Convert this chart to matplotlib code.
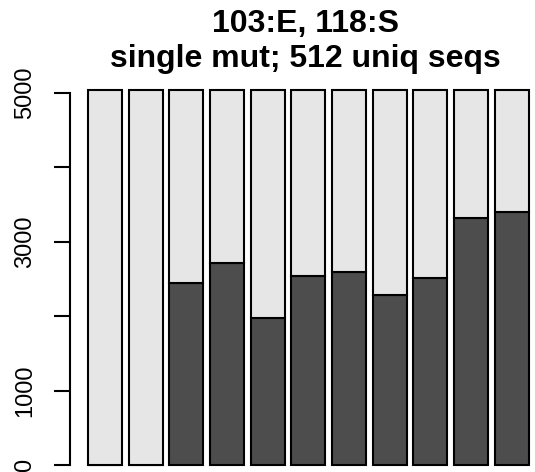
import numpy as np
import matplotlib
matplotlib.use("Agg")
import matplotlib.pyplot as plt

# stacked counts per position (dark = mutated, light = rest up to total)
totals = [5040, 5040, 5040, 5040, 5040, 5040, 5040, 5040, 5040, 5040, 5040]
dark = [0, 0, 2445, 2715, 1975, 2540, 2595, 2285, 2515, 3315, 3395]
yticks = [0, 1000, 2000, 3000, 4000, 5000]
ytick_labels = ["0", "1000", "", "3000", "", "5000"]
title_lines = ["103:E, 118:S", "single mut; 512 uniq seqs"]

W, H = 535, 472
fig = plt.figure(figsize=(W / 100, H / 100), dpi=100)
plt.rcParams["font.family"] = ["Liberation Sans", "DejaVu Sans"]

# R barplot geometry: width 1, space 0.2; plot region partly cut off at right/bottom
x0_px, px_per_unit = 70.4, 33.9
y0_px, px_per_val = 465.0, 0.07445
xlim = (-0.32, -0.32 + (W - x0_px) / px_per_unit)
ytop = 5241.6
top_px = y0_px - ytop * px_per_val
ylim = (-(H - y0_px) / px_per_val, ytop)
ax = fig.add_axes([x0_px / W, 0, 1 - x0_px / W, 1 - top_px / H])

n = len(dark)
lefts = 0.2 + 1.2 * np.arange(n)
light = np.array(totals) - np.array(dark)
ax.bar(lefts, dark, width=1, align="edge", color="#4d4d4d", edgecolor="black", lw=1.5)
ax.bar(lefts, light, bottom=dark, width=1, align="edge", color="#e6e6e6",
       edgecolor="black", lw=1.5)

ax.set_xlim(*xlim)
ax.set_ylim(*ylim)
for s in ["top", "right", "bottom"]:
    ax.spines[s].set_visible(False)
ax.spines["left"].set_bounds(0, 5000)
ax.spines["left"].set_linewidth(1.5)
ax.set_xticks([])
ax.set_yticks(yticks)
ax.set_yticklabels(ytick_labels, rotation=90, va="center", fontsize=17)
ax.tick_params(axis="y", length=11.5, width=1.5, pad=13)

cx = 305 / W
fig.text(cx, 1 - 31.7 / H, title_lines[0], ha="center", va="baseline",
         fontsize=23, fontweight="bold")
fig.text(cx, 1 - 67.5 / H, title_lines[1], ha="center", va="baseline",
         fontsize=23, fontweight="bold")

fig.savefig("out.png", dpi=100)
